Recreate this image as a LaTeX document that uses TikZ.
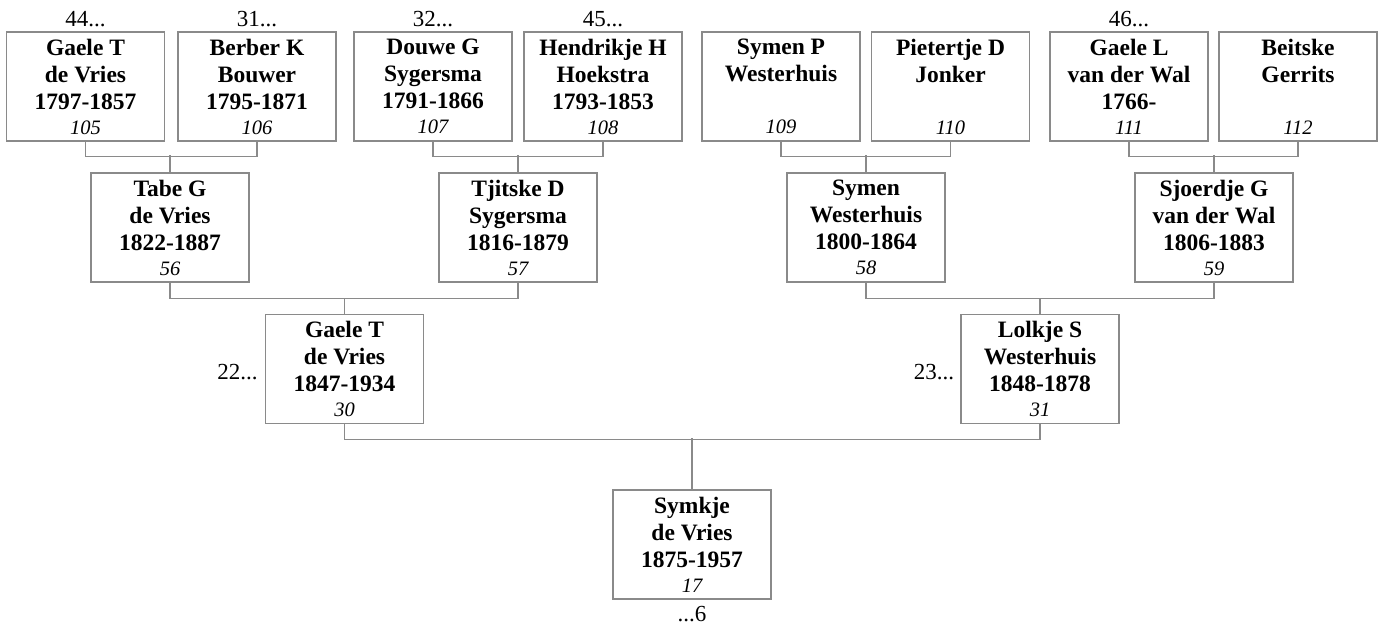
\documentclass[tikz,border=0pt]{standalone}
\usepackage{fontspec}
\setmainfont{Liberation Serif}
\definecolor{linegray}{HTML}{8A8A8A}
\newcommand\pnum[1]{\\[-2pt]{\fontsize{20.5}{25}\selectfont\mdseries\itshape #1}}
\begin{document}
\begin{tikzpicture}[x=1pt,y=-1pt,
  person/.style={draw=linegray, line width=1.2pt, minimum width=158pt, minimum height=109pt,
    inner sep=0pt, align=center, font=\fontsize{23.5}{27}\selectfont\bfseries},
  lbl/.style={font=\fontsize{23}{27}\selectfont, inner sep=0pt},
  conn/.style={draw=linegray, line width=1.2pt}]
\useasboundingbox (0,0) rectangle (1380,628);
% generation 4
\node[person] (p105) at (85.5,86.5) {Gaele T\\de Vries\\1797-1857\pnum{105}};
\node[person] (p106) at (257,86.5) {Berber K\\Bouwer\\1795-1871\pnum{106}};
\node[person] (p107) at (433,86.5) {Douwe G\\Sygersma\\1791-1866\pnum{107}};
\node[person] (p108) at (603,86.5) {Hendrikje H\\Hoekstra\\1793-1853\pnum{108}};
\node[person] (p109) at (781,86.5) {Symen P\\Westerhuis\\\pnum{109}};
\node[person] (p110) at (950.5,86.5) {Pietertje D\\Jonker\\\pnum{110}};
\node[person] (p111) at (1129,86.5) {Gaele L\\van der Wal\\1766-\pnum{111}};
\node[person] (p112) at (1298,86.5) {Beitske\\Gerrits\\\pnum{112}};
% generation 3
\node[person] (p56) at (170,227.5) {Tabe G\\de Vries\\1822-1887\pnum{56}};
\node[person] (p57) at (518,227.5) {Tjitske D\\Sygersma\\1816-1879\pnum{57}};
\node[person] (p58) at (866,227.5) {Symen\\Westerhuis\\1800-1864\pnum{58}};
\node[person] (p59) at (1214,227.5) {Sjoerdje G\\van der Wal\\1806-1883\pnum{59}};
% generation 2
\node[person] (p30) at (344.5,369) {Gaele T\\de Vries\\1847-1934\pnum{30}};
\node[person] (p31) at (1040,369) {Lolkje S\\Westerhuis\\1848-1878\pnum{31}};
% generation 1
\node[person] (p17) at (692,544.5) {Symkje\\de Vries\\1875-1957\pnum{17}};
% labels
\node[lbl] (l44) at ([yshift=12pt]p105.north) {44...};
\node[lbl] (l31a) at ([yshift=12pt]p106.north) {31...};
\node[lbl] (l32) at ([yshift=12pt]p107.north) {32...};
\node[lbl] (l45) at ([yshift=12pt]p108.north) {45...};
\node[lbl] (l46) at ([yshift=12pt]p111.north) {46...};
\node[lbl, anchor=east] (l22) at ([xshift=-7pt,yshift=-3pt]p30.west) {22...};
\node[lbl, anchor=east] (l23) at ([xshift=-6pt,yshift=-3pt]p31.west) {23...};
\node[lbl] (l6) at ([yshift=-14pt]p17.south) {...6};
% connectors
\draw[conn] (p105.south) -- ++(0,15) -| (p106.south);
\draw[conn] (p56.north) -- ++(0,-17);
\draw[conn] (p107.south) -- ++(0,15) -| (p108.south);
\draw[conn] (p57.north) -- ++(0,-17);
\draw[conn] (p109.south) -- ++(0,15) -| (p110.south);
\draw[conn] (p58.north) -- ++(0,-17);
\draw[conn] (p111.south) -- ++(0,15) -| (p112.south);
\draw[conn] (p59.north) -- ++(0,-17);
\draw[conn] (p56.south) -- ++(0,16) -| (p57.south);
\draw[conn] (p30.north) -- ++(0,-16);
\draw[conn] (p58.south) -- ++(0,16) -| (p59.south);
\draw[conn] (p31.north) -- ++(0,-16);
\draw[conn] (p30.south) -- ++(0,15) -| (p31.south);
\draw[conn] (p17.north) -- ++(0,-51);
\end{tikzpicture}
\end{document}
